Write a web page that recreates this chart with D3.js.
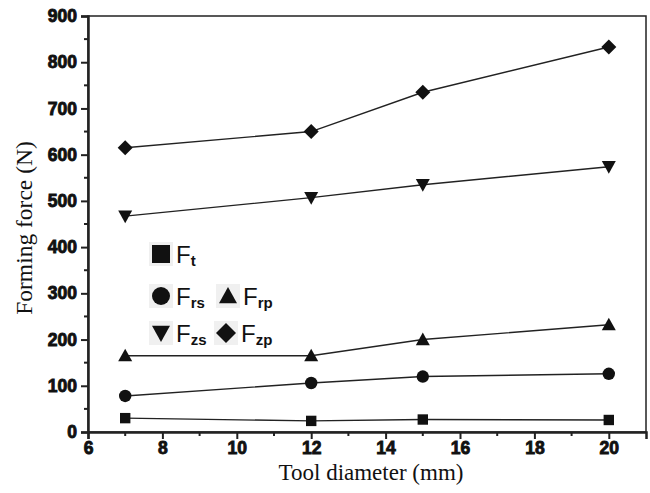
<!DOCTYPE html>
<html>
<head>
<meta charset="utf-8">
<script src="https://cdn.jsdelivr.net/npm/d3@7"></script>
<style>
  html, body { margin: 0; padding: 0; background: #fff; }
  svg { display: block; }
</style>
</head>
<body>
<svg id="chart" width="650" height="493"></svg>
<script>
// Tool diameters (mm)
const diameters = [7, 12, 15, 20];

// Forming force components (N)
const Ft  = [30, 24, 27, 26];
const Frs = [78, 106, 120, 126];
const Frp = [165, 165, 200, 232];
const Fzs = [467, 507, 535, 574];
const Fzp = [615, 650, 735, 833];

const xTicks = [6, 8, 10, 12, 14, 16, 18, 20];
const yTicks = [0, 100, 200, 300, 400, 500, 600, 700, 800, 900];

const series = [
  { sub: "t",  values: Ft,  symbol: "square" },
  { sub: "rs", values: Frs, symbol: "circle" },
  { sub: "rp", values: Frp, symbol: "up" },
  { sub: "zs", values: Fzs, symbol: "down" },
  { sub: "zp", values: Fzp, symbol: "diamond" }
];

const SANS = "Liberation Sans, Arial, Helvetica, sans-serif";
const SERIF = "Liberation Serif, Times New Roman, Times, serif";

const svg = d3.select("#chart");
const margin = { left: 88, right: 4, top: 16, bottom: 61 };
const W = 650, H = 493;

const x = d3.scaleLinear().domain([6, 21]).range([margin.left, W - margin.right]);
const y = d3.scaleLinear().domain([0, 900]).range([H - margin.bottom, margin.top]);

// Frame
svg.append("rect")
  .attr("x", x(6)).attr("y", y(900))
  .attr("width", x(21) - x(6)).attr("height", y(0) - y(900))
  .attr("fill", "none").attr("stroke", "#222").attr("stroke-width", 1.5);

// Axes
const xAxis = d3.axisBottom(x).tickValues(xTicks).tickSize(7).tickPadding(3).tickFormat(d3.format("d"));
const yAxis = d3.axisLeft(y).tickValues(yTicks).tickSize(7).tickPadding(4).tickFormat(d3.format("d"));

const gx = svg.append("g").attr("transform", `translate(0,${y(0)})`).call(xAxis);
const gy = svg.append("g").attr("transform", `translate(${x(6)},0)`).call(yAxis);

[gx, gy].forEach(g => {
  g.attr("font-family", SANS).attr("font-size", 17).attr("font-weight", "bold");
  g.select(".domain").attr("stroke", "#222").attr("stroke-width", 2.5);
  g.selectAll(".tick line").attr("stroke", "#222").attr("stroke-width", 2);
  g.selectAll(".tick text")
    .attr("fill", "#111")
    .attr("font-family", SANS)
    .attr("font-size", 17.5)
    .attr("font-weight", "bold")
    .attr("stroke", "#111").attr("stroke-width", 0.9);
});

// Minor ticks
const xMinor = d3.range(7, 21, 2);
svg.append("g").selectAll("line").data(xMinor).join("line")
  .attr("x1", d => x(d)).attr("x2", d => x(d))
  .attr("y1", y(0)).attr("y2", y(0) + 4)
  .attr("stroke", "#222").attr("stroke-width", 2);
const yMinor = d3.range(50, 900, 100);
svg.append("g").selectAll("line").data(yMinor).join("line")
  .attr("x1", x(6)).attr("x2", x(6) - 4)
  .attr("y1", d => y(d)).attr("y2", d => y(d))
  .attr("stroke", "#222").attr("stroke-width", 2);

// Axis titles
svg.append("text")
  .attr("x", 371).attr("y", 480)
  .attr("text-anchor", "middle")
  .attr("font-family", SERIF).attr("font-size", 23)
  .attr("fill", "#111")
  .text("Tool diameter (mm)");

svg.append("text")
  .attr("transform", "translate(32,228) rotate(-90)")
  .attr("text-anchor", "middle")
  .attr("font-family", SERIF).attr("font-size", 23.5)
  .attr("fill", "#111")
  .text("Forming force (N)");

// Marker shapes, r = half-width in px
function symbolPath(sym, r) {
  if (sym === "square") return `M${-r},${-r}H${r}V${r}H${-r}Z`;
  if (sym === "circle") return d3.symbol().type(d3.symbolCircle).size(Math.PI * r * r)();
  if (sym === "up")   return `M0,${-r}L${r},${r * 0.8}L${-r},${r * 0.8}Z`;
  if (sym === "down") return `M0,${r}L${r},${-r * 0.8}L${-r},${-r * 0.8}Z`;
  return `M0,${-r}L${r},0L0,${r}L${-r},0Z`;
}
const markR = { square: 5.2, circle: 6.2, up: 7, down: 7, diamond: 7.5 };
const legR  = { square: 9, circle: 9, up: 9, down: 9, diamond: 10 };

const line = d3.line().x((d, i) => x(diameters[i])).y(d => y(d));

const plot = svg.append("g");
series.forEach(s => {
  plot.append("path")
    .attr("d", line(s.values))
    .attr("fill", "none").attr("stroke", "#222").attr("stroke-width", 1.4);
  plot.selectAll(null).data(s.values).join("path")
    .attr("transform", (d, i) => `translate(${x(diameters[i])},${y(d)})`)
    .attr("d", symbolPath(s.symbol, markR[s.symbol]))
    .attr("fill", "#111");
});

// Legend
const legendItems = [
  { s: series[0], cx: 161, cy: 254 },
  { s: series[1], cx: 161, cy: 296 },
  { s: series[2], cx: 228, cy: 296 },
  { s: series[3], cx: 161, cy: 333 },
  { s: series[4], cx: 226, cy: 333 }
];
const legend = svg.append("g");
legendItems.forEach(it => {
  const g = legend.append("g");
  g.append("rect")
    .attr("x", it.cx - 12).attr("y", it.cy - 12)
    .attr("width", 24).attr("height", 24)
    .attr("fill", "#f0f0f0");
  g.append("path")
    .attr("transform", `translate(${it.cx},${it.cy})`)
    .attr("d", symbolPath(it.s.symbol, legR[it.s.symbol]))
    .attr("fill", "#111");
  const t = g.append("text")
    .attr("x", it.cx + 15).attr("y", it.cy + 9)
    .attr("font-family", SANS)
    .attr("fill", "#111");
  t.append("tspan").attr("font-size", 24).text("F");
  t.append("tspan").attr("dy", 3).attr("font-size", 15).attr("font-weight", "bold").text(it.s.sub);
});
</script>
</body>
</html>
